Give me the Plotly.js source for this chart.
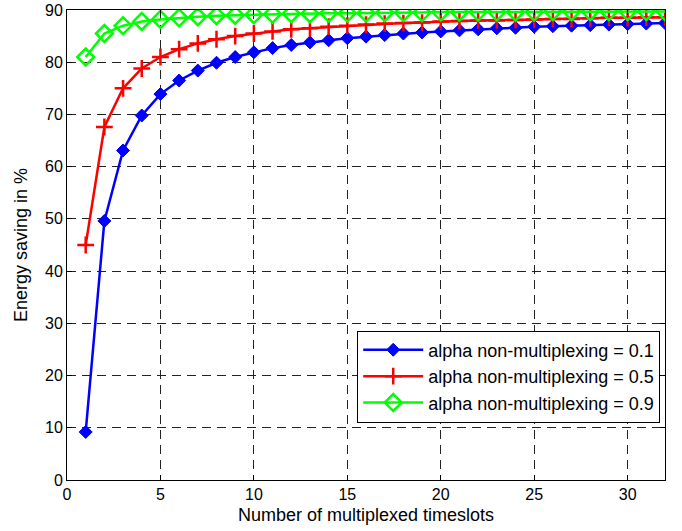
<!DOCTYPE html>
<html>
<head>
<meta charset="utf-8">
<script src="https://cdn.plot.ly/plotly-3.0.1.min.js"></script>
<style>html,body{margin:0;padding:0;background:#fff;}#chart{width:682px;height:531px;}</style>
</head>
<body>
<div id="chart"></div>
<script>
const timeslots = [1,2,3,4,5,6,7,8,9,10,11,12,13,14,15,16,17,18,19,20,21,22,23,24,25,26,27,28,29,30,31,32];
const alpha01 = [9.2,49.6,63.1,69.8,73.9,76.5,78.4,79.9,81.0,81.9,82.7,83.3,83.8,84.2,84.6,84.9,85.2,85.5,85.7,85.9,86.1,86.3,86.5,86.6,86.8,86.9,87.0,87.1,87.2,87.3,87.4,87.5];
const alpha05 = [45.0,67.6,75.0,78.8,81.0,82.5,83.6,84.4,85.0,85.5,85.9,86.3,86.5,86.8,87.0,87.2,87.4,87.5,87.6,87.8,87.9,88.0,88.0,88.1,88.2,88.3,88.3,88.4,88.5,88.5,88.6,88.6];
const alpha09 = [81.0,85.5,87.0,87.8,88.2,88.5,88.7,88.9,89.0,89.1,89.2,89.3,89.3,89.4,89.4,89.4,89.5,89.5,89.5,89.6,89.6,89.6,89.6,89.6,89.6,89.7,89.7,89.7,89.7,89.7,89.7,89.7];
const seriesNames = ['alpha non-multiplexing = 0.1','alpha non-multiplexing = 0.5','alpha non-multiplexing = 0.9'];
const xTicks = [0,5,10,15,20,25,30];
const yTicks = [0,10,20,30,40,50,60,70,80,90];

const FONT = 'Liberation Sans, Arial, sans-serif';
const traces = [
  {x: timeslots, y: alpha01, name: seriesNames[0], mode: 'lines+markers',
   line: {color: '#0000ff', width: 2.5},
   marker: {symbol: 'diamond', size: 10, color: '#0000ff', line: {color: '#0000ff', width: 1}}},
  {x: timeslots, y: alpha05, name: seriesNames[1], mode: 'lines+markers',
   line: {color: '#ff0000', width: 2.5},
   marker: {symbol: 'cross-thin-open', size: 12, color: '#ff0000', line: {color: '#ff0000', width: 2.5}}},
  {x: timeslots, y: alpha09, name: seriesNames[2], mode: 'lines+markers',
   line: {color: '#00ff00', width: 2.5},
   marker: {symbol: 'diamond-open', size: 13, color: '#00ff00', line: {color: '#00ff00', width: 2.5}}}
];

const axisCommon = {
  showline: true, linecolor: '#000', linewidth: 1, mirror: 'ticks',
  ticks: 'inside', ticklen: 5, tickcolor: '#000',
  showgrid: true, gridcolor: '#222', gridwidth: 1, griddash: '9px,6px',
  zeroline: false, tickfont: {family: FONT, size: 16, color: '#000'}
};

const layout = {
  width: 682, height: 531,
  margin: {l: 67, r: 17, t: 10, b: 51},
  paper_bgcolor: '#fff', plot_bgcolor: '#fff',
  font: {family: FONT, color: '#000'},
  showlegend: true,
  xaxis: Object.assign({}, axisCommon, {
    range: [0, 32], tickvals: xTicks,
    title: {text: 'Number of multiplexed timeslots', font: {family: FONT, size: 18, color: '#000'}, standoff: 6}
  }),
  yaxis: Object.assign({}, axisCommon, {
    range: [0, 90], tickvals: yTicks,
    title: {text: 'Energy saving in %', font: {family: FONT, size: 18, color: '#000'}, standoff: 12}
  }),
  legend: {
    x: 0.992, xanchor: 'right', y: 0.318, yanchor: 'top',
    bgcolor: '#fff', bordercolor: '#000', borderwidth: 1,
    font: {family: FONT, size: 18, color: '#000'},
    tracegroupgap: 0, itemwidth: 60
  }
};

Plotly.newPlot('chart', traces, layout, {displayModeBar: false, staticPlot: true});
</script>
</body>
</html>
